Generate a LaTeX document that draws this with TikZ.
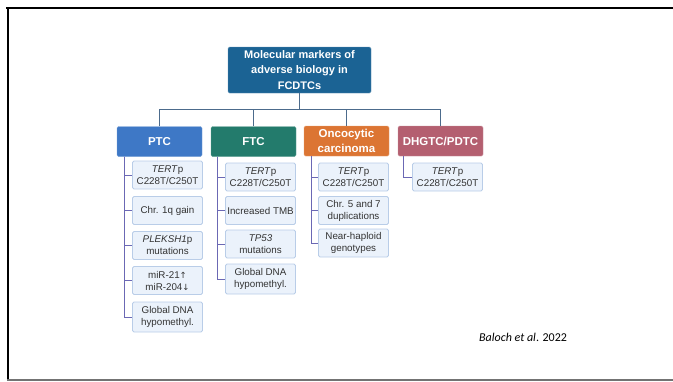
\documentclass[tikz,border=0pt]{standalone}
\usepackage{fontspec}
\setmainfont{Liberation Sans}
\newfontfamily\symfont{DejaVu Sans}
\newfontfamily\citefont{Carlito}
\begin{document}
\definecolor{rootblue}{HTML}{1B6394}
\definecolor{ptcblue}{HTML}{3E78C6}
\definecolor{ftcteal}{HTML}{237B6C}
\definecolor{oncorange}{HTML}{DC7533}
\definecolor{dhgrose}{HTML}{B45F70}
\definecolor{itemfill}{HTML}{EBF2FB}
\definecolor{itemline}{HTML}{B9CDE8}
\definecolor{busline}{HTML}{4C6B8C}
\definecolor{sideline}{HTML}{6B68B4}
\definecolor{itemtext}{HTML}{333333}
\begin{tikzpicture}[x=1pt,y=-1pt,
  rootbox/.style={fill=rootblue,draw=rootblue!70!white,rounded corners=1.5pt,
    text=white,font=\bfseries\fontsize{11}{15.5}\selectfont,align=center,
    minimum width=143pt,minimum height=46pt,inner sep=0pt},
  headbox/.style={fill=#1,draw=#1!70!white,rounded corners=1.5pt,text=white,
    font=\bfseries\fontsize{11.5}{15}\selectfont,align=center,
    minimum width=85pt,minimum height=30pt,inner sep=0pt},
  itembox/.style={fill=itemfill,draw=itemline,rounded corners=1.5pt,line width=0.8pt,
    text=itemtext,font=\fontsize{9.8}{12}\selectfont,align=center,
    minimum width=70pt,minimum height=28pt,inner sep=0pt},
  bus/.style={draw=busline,line width=1.3pt},
  side/.style={draw=sideline,line width=1pt},
  frameline/.style={line width=2.5pt,black}]
\useasboundingbox (0,0) rectangle (673,381);
% page frame
\draw[frameline] (6,8) -- (673,8);
\draw[frameline] (8,7) -- (8,381);
\draw[line width=1.5pt,black!55] (7,380) -- (673,380);

% root and group heads
\node[rootbox] (root) at (299.5,70) {Molecular markers of\\adverse biology in\\FCDTCs};
\node[headbox=ptcblue] (ptc) at (159.5,141.5) {PTC};
\node[headbox=ftcteal] (ftc) at (253.5,141.5) {FTC};
\node[headbox=oncorange] (onc) at (346.5,141) {Oncocytic\\carcinoma};
\node[headbox=dhgrose] (dhg) at (440.5,141) {DHGTC/PDTC};

% PTC items
\node[itembox] (p1) at (167.5,175) {\textit{TERT}p\\C228T/C250T};
\node[itembox] (p2) at (167.5,210.5) {Chr. 1q gain};
\node[itembox] (p3) at (167.5,245.5) {\textit{PLEKSH1}p\\mutations};
\node[itembox] (p4) at (167.5,280.5) {miR-21{\symfont\fontsize{8.5}{10}\selectfont↑}\\miR-204{\symfont\fontsize{8.5}{10}\selectfont↓}};
\node[itembox,minimum height=30pt] (p5) at (167.5,317) {Global DNA\\hypomethyl.};

% FTC items
\node[itembox] (f1) at (260.5,177) {\textit{TERT}p\\C228T/C250T};
\node[itembox] (f2) at (260.5,210.5) {Increased TMB};
\node[itembox] (f3) at (260.5,244) {\textit{TP53}\\mutations};
\node[itembox,minimum height=30pt] (f4) at (260.5,279) {Global DNA\\hypomethyl.};

% Oncocytic items
\node[itembox] (o1) at (353.5,177) {\textit{TERT}p\\C228T/C250T};
\node[itembox] (o2) at (353.5,210.5) {Chr. 5 and 7\\duplications};
\node[itembox] (o3) at (353.5,243) {Near-haploid\\genotypes};

% DHGTC/PDTC item
\node[itembox] (d1) at (447.5,177) {\textit{TERT}p\\C228T/C250T};

% tree bus
\coordinate (bus) at (299.5,109.5);
\draw[bus] (root.south) -- (bus);
\draw[bus] (ptc.north) |- (bus) -| (dhg.north);
\draw[bus] (ftc.north) -- (ftc.north |- bus);
\draw[bus] (onc.north) -- (onc.north |- bus);

% side connectors to the items
\foreach \i in {p1,p2,p3,p4,p5} \draw[side] ([xshift=8pt]ptc.south west) |- (\i.west);
\foreach \i in {f1,f2,f3,f4} \draw[side] ([xshift=7pt]ftc.south west) |- (\i.west);
\foreach \i in {o1,o2,o3} \draw[side] ([xshift=8pt]onc.south west) |- (\i.west);
\draw[side] ([xshift=6pt]dhg.south west) |- (d1.west);

% citation
\node[font=\citefont\fontsize{12}{14}\selectfont,anchor=west,inner sep=0pt] (cite) at (479,337) {\textit{Baloch et al}. 2022};
\end{tikzpicture}
\end{document}
